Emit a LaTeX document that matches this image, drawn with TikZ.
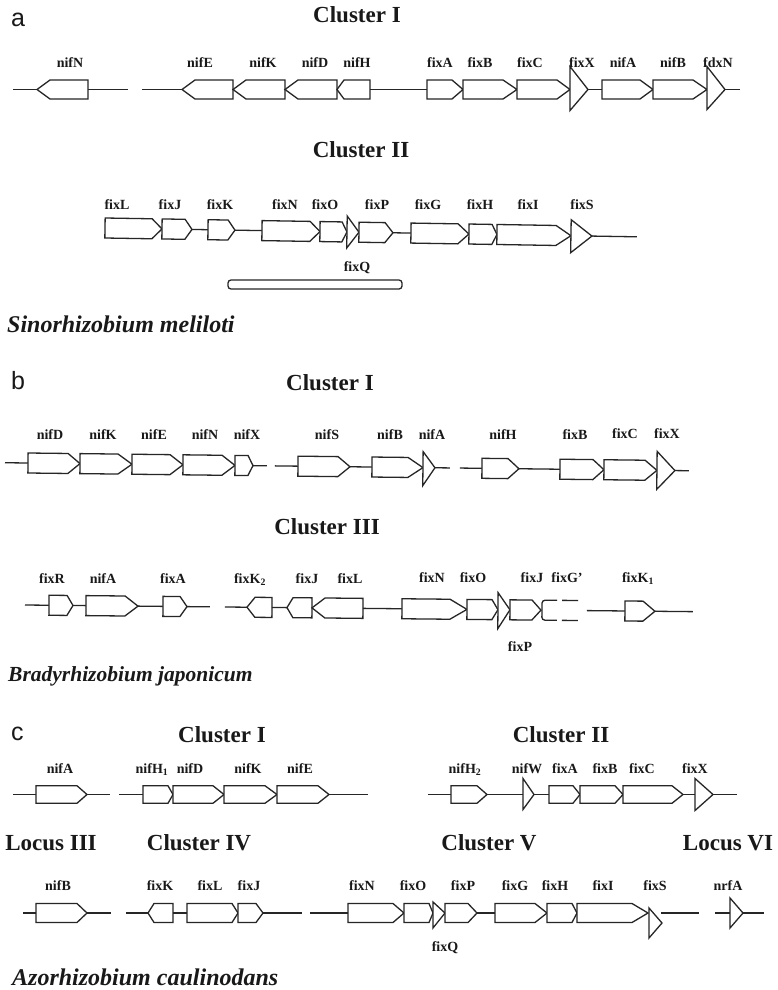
\documentclass[tikz,border=0pt]{standalone}
\usepackage{fontspec}
\setmainfont{Liberation Serif}
\newfontfamily\panelfont{Liberation Sans}
\tikzset{
  gene/.style={draw=black!85, line width=1.3pt, line join=miter, fill=white},
  dna/.style={draw=black!85, line width=1.3pt},
  glab/.style={font=\fontsize{14}{15}\selectfont\bfseries, text=black!90, inner sep=0pt, anchor=base},
  ctitle/.style={font=\fontsize{23}{26}\selectfont\bfseries, text=black!90, inner sep=0pt, anchor=base},
  species/.style={font=\fontsize{24}{26}\selectfont\bfseries\itshape, text=black!90, inner sep=0pt, anchor=base west},
  panel/.style={font=\fontsize{25}{28}\selectfont\panelfont, text=black!90, inner sep=0pt, anchor=base west},
}
\newcommand\geneR[3]{\draw[gene] (#1,\ry-\hh) -- (#2,\ry-\hh) -- (#3,\ry) -- (#2,\ry+\hh) -- (#1,\ry+\hh) -- cycle;}
\newcommand\geneL[3]{\draw[gene] (#1,\ry) -- (#2,\ry-\hh) -- (#3,\ry-\hh) -- (#3,\ry+\hh) -- (#2,\ry+\hh) -- cycle;}
\newcommand\genetri[4]{\draw[gene] (#1,\ry-#3) -- (#2,\ry) -- (#1,\ry+#4) -- cycle;}
\newcommand\dnaline[2]{\draw[dna] (#1,\ry) -- (#2,\ry);}
\newcommand\glabel[4]{\node[glab] (#1) at (#2,#3) {#4};}
\begin{document}
\begin{tikzpicture}[x=1pt,y=-1pt]
\useasboundingbox (0,0) rectangle (777,990);
\fill[white] (0,0) rectangle (777,990);

% ---------------- panel a ----------------
\node[panel] (pa) at (11,27) {a};
\node[ctitle] (aCI) at (357,23) {Cluster I};
\begin{scope}
\def\ry{89.5}\def\hh{9.5}
\dnaline{13}{37}
\geneL{37}{50}{88}
\dnaline{88}{128}
\dnaline{142}{182}
\geneL{182}{195}{233}
\geneL{233}{246}{285}
\geneL{285}{298}{337}
\geneL{337}{344}{370}
\dnaline{370}{427}
\geneR{427}{452}{463}
\geneR{463}{503}{517}
\geneR{517}{557}{570}
\dnaline{588}{602}
\genetri{570}{588}{23}{21}
\geneR{602}{640}{653}
\geneR{653}{693}{707}
\dnaline{725}{740}
\genetri{707}{725}{23}{20}
\end{scope}
\glabel{a1}{70}{67}{nifN}
\glabel{a2}{200}{67}{nifE}
\glabel{a3}{263}{67}{nifK}
\glabel{a4}{315}{67}{nifD}
\glabel{a5}{357}{67}{nifH}
\glabel{a6}{440}{67}{fixA}
\glabel{a7}{480}{67}{fixB}
\glabel{a8}{530}{67}{fixC}
\glabel{a9}{582}{67}{fixX}
\glabel{a10}{623}{67}{nifA}
\glabel{a11}{673}{67}{nifB}
\glabel{a12}{718}{67}{fdxN}

\node[ctitle] (aCII) at (361,157) {Cluster II};
\begin{scope}[rotate around={-0.95:(105,228)}]
\def\ry{228}\def\hh{10}
\geneR{105}{152}{162}
\geneR{162}{185}{192}
\dnaline{192}{208}
\geneR{208}{228}{235}
\dnaline{235}{262}
\geneR{262}{310}{320}
\geneR{320}{342}{347}
\genetri{347}{359}{16}{16}
\geneR{359}{385}{393}
\dnaline{393}{411}
\geneR{411}{458}{469}
\geneR{469}{492}{497}
\geneR{497}{556}{571}
\dnaline{592}{637}
\genetri{571}{592}{16}{17}
\end{scope}
\glabel{b1}{117}{209}{fixL}
\glabel{b2}{170}{209}{fixJ}
\glabel{b3}{220}{209}{fixK}
\glabel{b4}{285}{209}{fixN}
\glabel{b5}{325}{209}{fixO}
\glabel{b6}{377}{209}{fixP}
\glabel{b7}{428}{209}{fixG}
\glabel{b8}{480}{209}{fixH}
\glabel{b9}{528}{209}{fixI}
\glabel{b10}{582}{209}{fixS}
\glabel{b11}{357}{271}{fixQ}
\draw[gene, rounded corners=3pt] (228,280) rectangle (402,289);
\node[species] (spa) at (7,332) {Sinorhizobium meliloti};

% ---------------- panel b ----------------
\node[panel] (pb) at (11,389) {b};
\node[ctitle] (bCI) at (330,390) {Cluster I};
\begin{scope}[rotate around={-0.67:(28,463)}]
\def\ry{463}\def\hh{10}
\dnaline{5}{28}
\geneR{28}{68}{80}
\geneR{80}{118}{132}
\geneR{132}{170}{183}
\geneR{183}{222}{235}
\geneR{235}{248}{253}
\dnaline{253}{267}
\dnaline{275}{298}
\geneR{298}{338}{350}
\dnaline{350}{372}
\geneR{372}{408}{423}
\dnaline{435}{450}
\genetri{423}{435}{16}{18}
\dnaline{460}{482}
\geneR{482}{508}{519}
\dnaline{519}{560}
\geneR{560}{593}{604}
\geneR{604}{645}{657}
\dnaline{675}{689}
\genetri{657}{675}{19}{19}
\end{scope}
\glabel{c1}{50}{439}{nifD}
\glabel{c2}{103}{439}{nifK}
\glabel{c3}{154}{439}{nifE}
\glabel{c4}{205}{439}{nifN}
\glabel{c5}{247}{439}{nifX}
\glabel{c6}{327}{439}{nifS}
\glabel{c7}{390}{439}{nifB}
\glabel{c8}{432}{439}{nifA}
\glabel{c9}{503}{439}{nifH}
\glabel{c10}{575}{439}{fixB}
\glabel{c11}{625}{438}{fixC}
\glabel{c12}{667}{438}{fixX}

\node[ctitle] (bCIII) at (327,534) {Cluster III};
\begin{scope}[rotate around={-0.57:(25,605)}]
\def\ry{605}\def\hh{10}
\dnaline{25}{49}
\geneR{49}{67}{73}
\dnaline{73}{86}
\geneR{86}{125}{138}
\dnaline{138}{163}
\geneR{163}{180}{187}
\dnaline{187}{210}
\dnaline{225}{247}
\geneL{247}{255}{272}
\dnaline{272}{287}
\geneL{287}{293}{312}
\geneL{312}{325}{363}
\dnaline{363}{402}
\geneR{402}{450}{467}
\geneR{467}{492}{498}
\genetri{498}{510}{17}{19}
\geneR{510}{532}{541}
\draw[gene, fill=none, rounded corners=3pt] (557,\ry-\hh) -- (542,\ry-\hh) -- (542,\ry+\hh) -- (557,\ry+\hh);
\draw[dna] (562,\ry-\hh) -- (578,\ry-\hh);
\draw[dna] (562,\ry+\hh) -- (578,\ry+\hh);
\dnaline{587}{625}
\geneR{625}{643}{655}
\dnaline{655}{693}
\end{scope}
\glabel{d1}{52}{583}{fixR}
\glabel{d2}{103}{583}{nifA}
\glabel{d3}{173}{583}{fixA}
\glabel{d4}{250}{583}{fixK\textsubscript{2}}
\glabel{d5}{307}{583}{fixJ}
\glabel{d6}{350}{583}{fixL}
\glabel{d7}{432}{582}{fixN}
\glabel{d8}{473}{582}{fixO}
\glabel{d9}{532}{582}{fixJ}
\glabel{d10}{567}{582}{fixG'}
\glabel{d11}{638}{582}{fixK\textsubscript{1}}
\glabel{d12}{520}{651}{fixP}
\node[species, font=\fontsize{21.5}{24}\selectfont\bfseries\itshape] (spb) at (8,681) {Bradyrhizobium japonicum};

% ---------------- panel c ----------------
\node[panel] (pc) at (11,740) {c};
\node[ctitle] (cCI) at (222,742) {Cluster I};
\node[ctitle] (cCII) at (561,742) {Cluster II};
\begin{scope}
\def\ry{794.5}\def\hh{8.75}
\dnaline{13}{36}
\geneR{36}{77}{87}
\dnaline{87}{110}
\dnaline{119}{143}
\geneR{143}{168}{173}
\geneR{173}{213}{224}
\geneR{224}{265}{277}
\geneR{277}{318}{329}
\dnaline{329}{368}
\dnaline{428}{451}
\geneR{451}{477}{487}
\dnaline{487}{523}
\dnaline{534}{549}
\genetri{523}{534}{16}{15}
\geneR{549}{573}{580}
\geneR{580}{615}{623}
\geneR{623}{672}{683}
\dnaline{683}{695}
\dnaline{713}{737}
\genetri{695}{713}{16}{16}
\end{scope}
\glabel{e1}{60}{773}{nifA}
\glabel{e2}{152}{773}{nifH\textsubscript{1}}
\glabel{e3}{190}{773}{nifD}
\glabel{e4}{248}{773}{nifK}
\glabel{e5}{300}{773}{nifE}
\glabel{e6}{465}{773}{nifH\textsubscript{2}}
\glabel{e7}{527}{773}{nifW}
\glabel{e8}{565}{773}{fixA}
\glabel{e9}{605}{773}{fixB}
\glabel{e10}{642}{773}{fixC}
\glabel{e11}{695}{773}{fixX}

\node[ctitle] (cLIII) at (51,850) {Locus III};
\node[ctitle] (cCIV) at (199,850) {Cluster IV};
\node[ctitle] (cCV) at (489,850) {Cluster V};
\node[ctitle] (cLVI) at (728,850) {Locus VI};
\begin{scope}
\def\ry{913}\def\hh{9.5}
\dnaline{23}{36}
\geneR{36}{77}{87}
\dnaline{87}{111}
\dnaline{126}{148}
\geneL{148}{154}{173}
\dnaline{173}{187}
\geneR{187}{232}{238}
\geneR{238}{256}{263}
\dnaline{263}{302}
\dnaline{310}{348}
\geneR{348}{393}{404}
\geneR{404}{429}{433}
\genetri{433}{445}{11}{15}
\geneR{445}{468}{477}
\dnaline{477}{495}
\geneR{495}{535}{547}
\geneR{547}{572}{577}
\geneR{577}{632}{648}
\draw[gene] (649,908) -- (662,923) -- (649,938) -- cycle;
\dnaline{661}{699}
\dnaline{715}{730}
\dnaline{743}{764}
\genetri{730}{743}{15}{15}
\end{scope}
\glabel{f1}{58}{890}{nifB}
\glabel{f2}{160}{890}{fixK}
\glabel{f3}{210}{890}{fixL}
\glabel{f4}{249}{890}{fixJ}
\glabel{f5}{362}{890}{fixN}
\glabel{f6}{413}{890}{fixO}
\glabel{f7}{463}{890}{fixP}
\glabel{f8}{515}{890}{fixG}
\glabel{f9}{555}{890}{fixH}
\glabel{f10}{603}{890}{fixI}
\glabel{f11}{655}{890}{fixS}
\glabel{f12}{728}{890}{nrfA}
\glabel{f13}{445}{951}{fixQ}
\node[species] (spc) at (12,985) {Azorhizobium caulinodans};
\end{tikzpicture}
\end{document}
